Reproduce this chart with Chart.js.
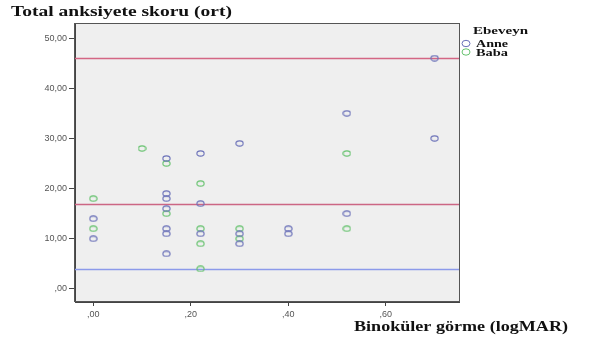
<!DOCTYPE html>
<html>
<head>
<meta charset="utf-8">
<script src="https://cdn.jsdelivr.net/npm/chart.js@4.4.0/dist/chart.umd.min.js"></script>
<style>
html, body { margin: 0; padding: 0; background: #fff; }
#wrap { width: 590px; height: 340px; }
</style>
</head>
<body>
<div id="wrap"><canvas id="myChart"></canvas></div>
<script>
// SPSS scatter: anxiety score vs binocular vision, by parent

const anneX = [0, 0, 0.15, 0.15, 0.15, 0.15, 0.15, 0.15, 0.15, 0.22, 0.22, 0.22, 0.30, 0.30, 0.30, 0.40, 0.40, 0.52, 0.52, 0.70, 0.70];
const anneY = [14, 10, 26, 19, 18, 16, 12, 11, 7, 27, 17, 11, 29, 11, 9, 12, 11, 35, 15, 46, 30];

const babaX = [0, 0, 0.10, 0.15, 0.15, 0.22, 0.22, 0.22, 0.22, 0.30, 0.30, 0.52, 0.52];
const babaY = [18, 12, 28, 25, 15, 21, 12, 9, 4, 12, 10, 27, 12];

const seriesLabels = ['Anne', 'Baba'];
const legendTitle = 'Ebeveyn';
const yTitle = 'Total anksiyete skoru (ort)';
const xTitle = 'Binoküler görme (logMAR)';

const xTicks = [0, 0.2, 0.4, 0.6];
const yTicks = [0, 10, 20, 30, 40, 50];

// horizontal reference lines
const refValues = [46, 17, 4];
const refColors = ['#d46684', '#cc6684', '#8c9aea'];

const anneColor = '#6a70b8';
const babaColor = '#66c26e';

const toPoints = (xs, ys) => xs.map((x, i) => ({ x: x, y: ys[i] }));

function fmt(v) {
    let s = v.toFixed(2).replace('.', ',');
    if (s.startsWith('0,')) s = s.slice(1);
    return s;
}

// small open ellipse marker like the SPSS export
function ringMarker(color) {
    const c = document.createElement('canvas');
    c.width = 9;
    c.height = 7;
    const g = c.getContext('2d');
    g.strokeStyle = color;
    g.lineWidth = 1.1;
    g.beginPath();
    g.ellipse(4.5, 3.5, 3.6, 2.6, 0, 0, Math.PI * 2);
    g.stroke();
    return c;
}

// draw text squeezed/stretched to a given width
function stretchText(ctx, text, x, y, width) {
    const w = ctx.measureText(text).width;
    ctx.save();
    ctx.translate(x, y);
    ctx.scale(width / w, 1);
    ctx.fillText(text, 0, 0);
    ctx.restore();
}

const spssPlugin = {
    id: 'spss',
    beforeDraw(chart) {
        const { ctx, chartArea: a } = chart;
        ctx.save();
        ctx.fillStyle = '#efefef';
        ctx.fillRect(a.left, a.top, a.right - a.left, a.bottom - a.top);
        ctx.restore();
    },
    beforeDatasetsDraw(chart) {
        const { ctx, chartArea: a, scales } = chart;
        ctx.save();
        ctx.lineWidth = 1.3;
        refValues.forEach((v, i) => {
            const py = Math.round(scales.y.getPixelForValue(v)) + 0.5;
            ctx.strokeStyle = refColors[i];
            ctx.beginPath();
            ctx.moveTo(a.left, py);
            ctx.lineTo(a.right, py);
            ctx.stroke();
        });
        ctx.restore();
    },
    afterDraw(chart) {
        const { ctx, chartArea: a } = chart;
        ctx.save();
        ctx.strokeStyle = '#555';
        ctx.lineWidth = 1;
        ctx.strokeRect(Math.round(a.left) - 0.5, Math.round(a.top) + 0.5,
            Math.round(a.right - a.left) + 1, Math.round(a.bottom - a.top) - 1);

        ctx.fillStyle = '#111';
        ctx.textBaseline = 'alphabetic';
        ctx.font = 'bold 14px "Liberation Serif"';
        stretchText(ctx, yTitle, 11, 16, 221);
        ctx.font = 'bold 14px "Liberation Serif"';
        stretchText(ctx, xTitle, 354, 331, 214);

        // legend
        ctx.font = 'bold 11px "Liberation Serif"';
        stretchText(ctx, legendTitle, 473, 34, 55);
        chart.data.datasets.forEach((ds, i) => {
            const cy = 43.5 + i * 8.5;
            ctx.strokeStyle = ds.borderColor;
            ctx.lineWidth = 1;
            ctx.beginPath();
            ctx.ellipse(466, cy, 4, 3.2, 0, 0, Math.PI * 2);
            ctx.stroke();
            ctx.fillStyle = '#111';
            ctx.font = 'bold 11px "Liberation Serif"';
            stretchText(ctx, ds.label, 476, cy + 3.5, 32);
        });
        ctx.restore();
    }
};

const ctx = document.getElementById('myChart').getContext('2d');

const myChart = new Chart(ctx, {
    type: 'scatter',
    data: {
        datasets: [{
            label: seriesLabels[0],
            data: toPoints(anneX, anneY),
            borderColor: anneColor,
            pointStyle: ringMarker(anneColor),
        }, {
            label: seriesLabels[1],
            data: toPoints(babaX, babaY),
            borderColor: babaColor,
            pointStyle: ringMarker(babaColor),
        }]
    },
    options: {
        responsive: true,
        maintainAspectRatio: false,
        animation: false,
        layout: {
            padding: { top: 23, right: 131, bottom: 0, left: 0 }
        },
        plugins: {
            legend: { display: false },
            tooltip: { enabled: false },
            title: { display: false }
        },
        elements: {
            point: {
                radius: 4,
                hoverRadius: 4,
            }
        },
        scales: {
            x: {
                type: 'linear',
                min: -0.0375,
                max: 0.75,
                afterBuildTicks(scale) {
                    scale.ticks = xTicks.map(v => ({ value: v }));
                },
                afterFit(scale) {
                    scale.height = 38;
                },
                grid: {
                    drawOnChartArea: false,
                    drawTicks: true,
                    tickLength: 4,
                    color: '#444',
                },
                border: { display: true, color: '#444' },
                ticks: {
                    padding: 3,
                    color: '#555',
                    font: { family: 'Liberation Sans', size: 9 },
                    callback: v => fmt(v),
                }
            },
            y: {
                type: 'linear',
                min: -2.6,
                max: 53,
                afterBuildTicks(scale) {
                    scale.ticks = yTicks.map(v => ({ value: v }));
                },
                afterFit(scale) {
                    scale.width = 75;
                },
                grid: {
                    drawOnChartArea: false,
                    drawTicks: true,
                    tickLength: 6,
                    color: '#444',
                },
                border: { display: true, color: '#444' },
                ticks: {
                    padding: 2,
                    color: '#555',
                    font: { family: 'Liberation Sans', size: 9 },
                    callback: v => fmt(v),
                }
            }
        }
    },
    plugins: [spssPlugin]
});
</script>
</body>
</html>
